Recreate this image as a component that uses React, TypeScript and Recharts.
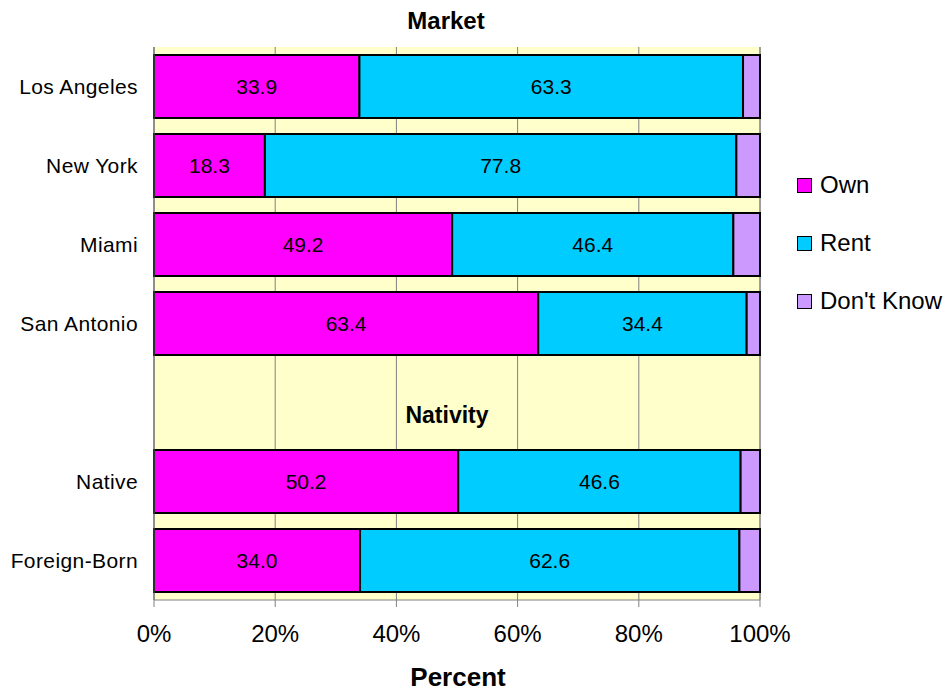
import { BarChart, Bar, XAxis, YAxis, CartesianGrid, LabelList, ReferenceLine } from 'recharts';

const FONT = '"Liberation Sans", Arial, sans-serif';

// rows top to bottom; "Nativity" is a section heading row with no bars
const rows = ['Los Angeles', 'New York', 'Miami', 'San Antonio', 'Nativity', 'Native', 'Foreign-Born'];
const headingRow = 'Nativity';
const own = [33.9, 18.3, 49.2, 63.4, null, 50.2, 34.0];
const rent = [63.3, 77.8, 46.4, 34.4, null, 46.6, 62.6];
const dontKnow = [2.8, 3.9, 4.4, 2.2, null, 3.2, 3.4];
const percentTicks = [0, 20, 40, 60, 80, 100];

const series = [
  { key: 'own', name: 'Own', color: '#FF00FF', labels: true },
  { key: 'rent', name: 'Rent', color: '#00CCFF', labels: true },
  { key: 'dontKnow', name: "Don't Know", color: '#CC99FF', labels: false },
];

const data = rows.map((row, i) => ({
  row,
  own: own[i],
  rent: rent[i],
  dontKnow: dontKnow[i],
}));

const RowTick = (props: any) => {
  const { x, y, payload } = props;
  if (payload.value === headingRow) return null;
  return (
    <text x={x} y={y} dy={7} textAnchor="end" fontSize={21} fontFamily={FONT} fill="#000" letterSpacing={0.4}>
      {payload.value}
    </text>
  );
};

// legend sits in the right margin, outside the chart layout
const LegendBox = () => (
  <div style={{ position: 'absolute', left: 797, top: 156, fontFamily: FONT, fontSize: 24, color: '#000' }}>
    {series.map((s) => (
      <div key={s.key} style={{ display: 'flex', alignItems: 'center', height: 58 }}>
        <span
          style={{
            display: 'inline-block',
            width: 13,
            height: 13,
            background: s.color,
            border: '1.5px solid #000',
            marginRight: 8,
          }}
        />
        <span>{s.name}</span>
      </div>
    ))}
  </div>
);

export default function App() {
  return (
    <div style={{ position: 'fixed', left: 0, top: 0, width: 948, height: 691, background: '#fff' }}>
      <BarChart
        width={948}
        height={691}
        layout="vertical"
        data={data}
        barCategoryGap="10%"
        margin={{ top: 47, right: 188, bottom: 0, left: 0 }}
      >
        <CartesianGrid horizontal={false} stroke="#808080" fill="#FFFFCC" fillOpacity={1} />
        <XAxis
          type="number"
          domain={[0, 100]}
          ticks={percentTicks}
          tickFormatter={(v) => `${v}%`}
          stroke="#808080"
          tickSize={7}
          tickMargin={18}
          height={91}
          tick={{ fill: '#000', fontSize: 24, fontFamily: FONT }}
        />
        <XAxis xAxisId="top" orientation="top" type="number" domain={[0, 100]} tick={false} tickLine={false} stroke="#808080" height={0} />
        <YAxis
          type="category"
          dataKey="row"
          width={154}
          stroke="#606060"
          tickLine={false}
          tickSize={0}
          tickMargin={16}
          tick={<RowTick />}
          interval={0}
        />
        <YAxis yAxisId="right" orientation="right" type="category" dataKey="row" tick={false} tickLine={false} stroke="#808080" width={0} />
        {series.map((s) => (
          <Bar key={s.key} dataKey={s.key} name={s.name} stackId="a" fill={s.color} stroke="#000" strokeWidth={2} isAnimationActive={false}>
            {s.labels && (
              <LabelList
                dataKey={s.key}
                position="center"
                formatter={(v: any) => (v == null ? '' : Number(v).toFixed(1))}
                fill="#000"
                fontSize={21}
                fontFamily={FONT}
              />
            )}
          </Bar>
        ))}
        <ReferenceLine
          y={headingRow}
          stroke="none"
          label={{ value: 'Nativity', position: 'center', dx: -10, dy: 12, fill: '#000', fontSize: 23, fontWeight: 'bold', fontFamily: FONT }}
        />
        <text x={446} y={29} textAnchor="middle" fontSize={24} fontWeight="bold" fontFamily={FONT} fill="#000">
          Market
        </text>
        <text x={458} y={686} textAnchor="middle" fontSize={26} fontWeight="bold" fontFamily={FONT} fill="#000">
          Percent
        </text>
      </BarChart>
      <LegendBox />
    </div>
  );
}
